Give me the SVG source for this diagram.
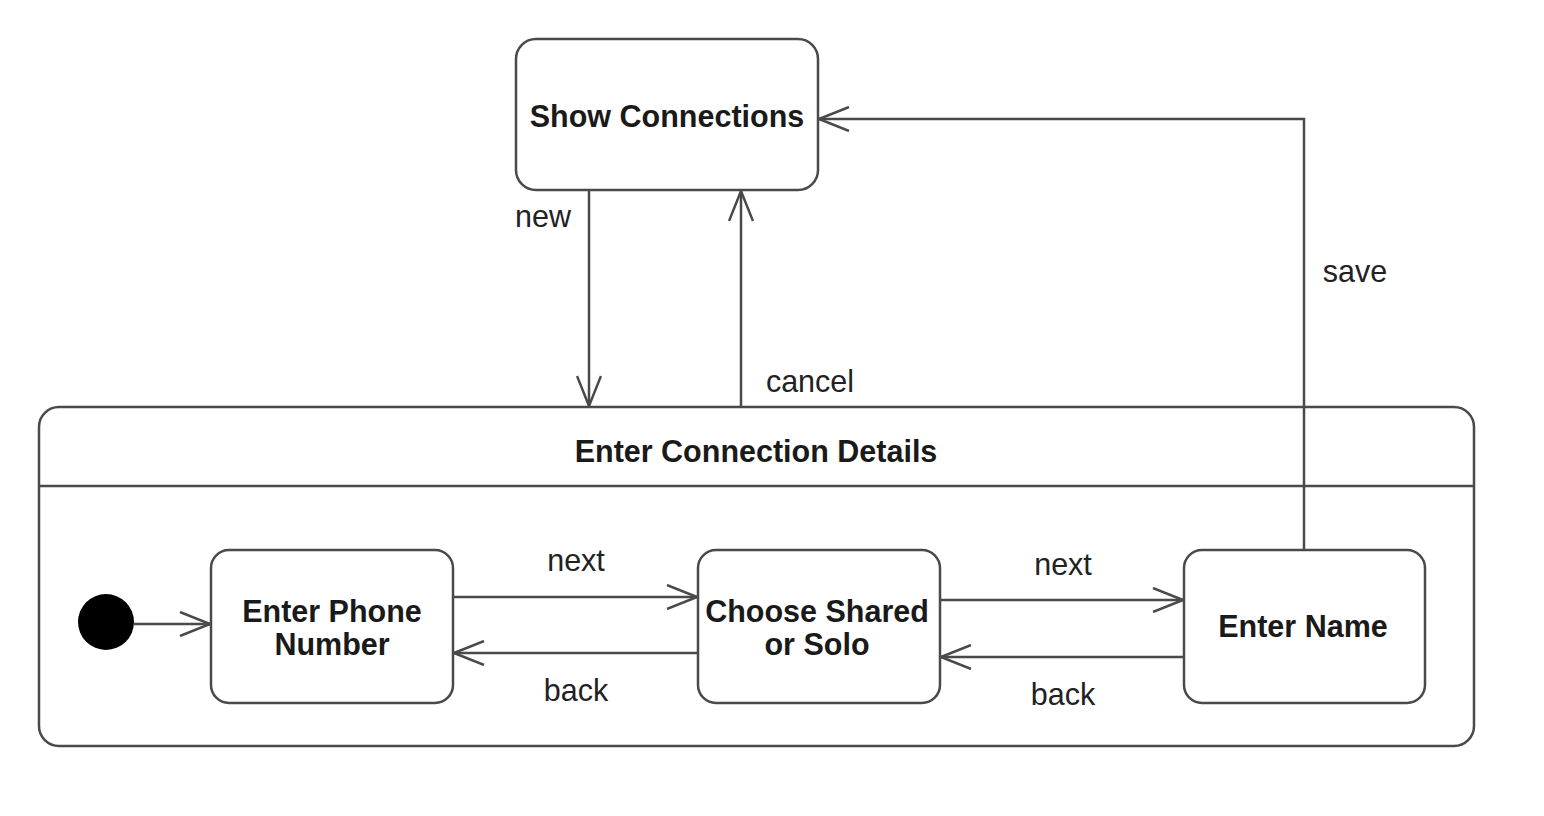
<svg xmlns="http://www.w3.org/2000/svg" width="1544" height="816" viewBox="0 0 1544 816">
<defs>
<style>
.box{fill:#fff;stroke:#4a4a4a;stroke-width:2.5}
.ln{fill:none;stroke:#4a4a4a;stroke-width:2.5}
.t{font-family:"Liberation Sans",Arial,sans-serif;font-weight:bold;font-size:30.5px;fill:#1a1a1a;text-anchor:middle}
.l{font-family:"Liberation Sans",Arial,sans-serif;font-size:30.5px;fill:#222;text-anchor:middle}
</style>
<marker id="open" viewBox="0 0 32 26" refX="31" refY="13" markerWidth="32" markerHeight="26" markerUnits="userSpaceOnUse" orient="auto">
<path d="M1,1 L31,13 L1,25" fill="none" stroke="#4a4a4a" stroke-width="2.5"/>
</marker>
</defs>
<rect width="1544" height="816" fill="#fff"/>
<g id="show-connections">
<rect class="box" x="516" y="39" width="302" height="151" rx="20"/>
<text class="t" x="667" y="127">Show Connections</text>
</g>
<g id="enter-connection-details">
<rect class="box" x="39" y="407" width="1435" height="339" rx="20"/>
<line class="ln" x1="39" y1="486" x2="1474" y2="486"/>
<text class="t" x="756" y="462">Enter Connection Details</text>
</g>
<g id="initial">
<circle cx="106" cy="622" r="28" fill="#000"/>
</g>
<g id="enter-phone-number">
<rect class="box" x="211" y="550" width="242" height="153" rx="18"/>
<text class="t" x="332" y="622">Enter Phone</text>
<text class="t" x="332" y="655">Number</text>
</g>
<g id="choose-shared-or-solo">
<rect class="box" x="698" y="550" width="242" height="153" rx="18"/>
<text class="t" x="817" y="622">Choose Shared</text>
<text class="t" x="817" y="655">or Solo</text>
</g>
<g id="enter-name">
<rect class="box" x="1184" y="550" width="241" height="153" rx="18"/>
<text class="t" x="1303" y="637">Enter Name</text>
</g>
<g id="connectors">
<line class="ln" x1="589" y1="190" x2="589" y2="406" marker-end="url(#open)"/>
<line class="ln" x1="741" y1="407" x2="741" y2="191" marker-end="url(#open)"/>
<polyline class="ln" points="1304,550 1304,119 819,119" marker-end="url(#open)"/>
<line class="ln" x1="134" y1="624" x2="210" y2="624" marker-end="url(#open)"/>
<line class="ln" x1="453" y1="597" x2="697" y2="597" marker-end="url(#open)"/>
<line class="ln" x1="698" y1="653" x2="454" y2="653" marker-end="url(#open)"/>
<line class="ln" x1="940" y1="600" x2="1183" y2="600" marker-end="url(#open)"/>
<line class="ln" x1="1184" y1="657" x2="941" y2="657" marker-end="url(#open)"/>
<text class="l" x="543" y="227">new</text>
<text class="l" x="810" y="392">cancel</text>
<text class="l" x="1355" y="282">save</text>
<text class="l" x="576" y="571">next</text>
<text class="l" x="576" y="701">back</text>
<text class="l" x="1063" y="575">next</text>
<text class="l" x="1063" y="705">back</text>
</g>
</svg>
